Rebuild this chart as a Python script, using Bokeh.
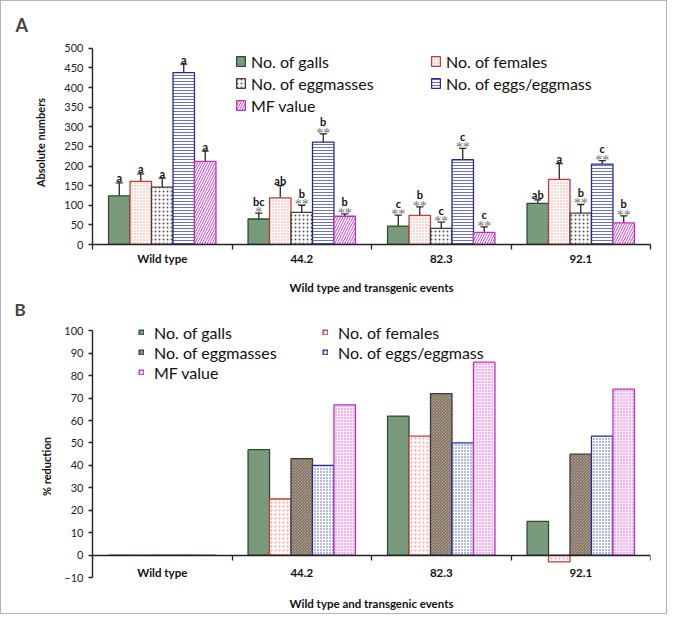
from bokeh.plotting import figure
from bokeh.models import (ColumnDataSource, Range1d, FixedTicker, Whisker, TeeHead,
                          Legend, LegendItem, LabelSet)
from bokeh.layouts import column
from bokeh.embed import file_html
from bokeh.resources import INLINE
from bokeh.core.properties import value

# ---------------- data ----------------
categories = ["Wild type", "44.2", "82.3", "92.1"]
series = ["No. of galls", "No. of females", "No. of eggmasses",
          "No. of eggs/eggmass", "MF value"]

# Panel A: absolute numbers (mean) and top of error bar
a_galls = [124, 65, 47, 105]
a_females = [161, 119, 74, 166]
a_eggmasses = [146, 82, 41, 80]
a_eggs = [438, 261, 216, 205]
a_mf = [212, 72, 31, 55]

a_galls_err = [157, 80, 75, 114]
a_females_err = [180, 150, 96, 206]
a_eggmasses_err = [169, 100, 57, 102]
a_eggs_err = [460, 282, 245, 214]
a_mf_err = [238, 78, 45, 73]

a_galls_letters = ["a", "bc", "c", "ab"]
a_females_letters = ["a", "ab", "b", "a"]
a_eggmasses_letters = ["a", "b", "c", "b"]
a_eggs_letters = ["a", "b", "c", "c"]
a_mf_letters = ["a", "b", "c", "b"]

a_galls_stars = ["", "*", "**", ""]
a_females_stars = ["", "", "**", ""]
a_eggmasses_stars = ["", "**", "**", "**"]
a_eggs_stars = ["", "**", "**", "**"]
a_mf_stars = ["", "**", "**", "**"]

# Panel B: % reduction
b_galls = [0, 47, 62, 15]
b_females = [0, 25, 53, -3]
b_eggmasses = [0, 43, 72, 45]
b_eggs = [0, 40, 50, 53]
b_mf = [0, 67, 86, 74]

a_yticks = list(range(0, 501, 50))
b_yticks = list(range(-10, 101, 10))

x_title = "Wild type and transgenic events"
a_ytitle = "Absolute numbers"
b_ytitle = "% reduction"

# ---------------- styles ----------------
FONT = "Lato"
A_STYLE = [
    dict(fill_color="#7A9A7C", line_color="#2E4A30"),
    dict(fill_color="#FFF8F7", line_color="#B8403C", hatch_pattern="dot",
         hatch_color="#E8AAA4", hatch_scale=3, hatch_weight=1),
    dict(fill_color="#FFFFFF", line_color="#4A3B30", hatch_pattern="dot",
         hatch_color="#555555", hatch_scale=4, hatch_weight=1),
    dict(fill_color="#FFFFFF", line_color="#2A2A8C", hatch_pattern="horizontal_line",
         hatch_color="#6A74BC", hatch_scale=3, hatch_weight=1),
    dict(fill_color="#FFFFFF", line_color="#C030C0", hatch_pattern="right_diagonal_line",
         hatch_color="#CC44CC", hatch_scale=5, hatch_weight=1),
]
B_STYLE = [
    dict(fill_color="#7A9A7C", line_color="#2E4A30"),
    dict(fill_color="#FFF8F8", line_color="#B8403C", hatch_pattern="dot",
         hatch_color="#E8A8A8", hatch_scale=4, hatch_weight=1),
    dict(fill_color="#D6CABA", line_color="#3A3A3A", hatch_pattern="left_diagonal_line",
         hatch_color="#6A5A4A", hatch_scale=3, hatch_weight=1),
    dict(fill_color="#FFFFFF", line_color="#2A2A9A", hatch_pattern="dot",
         hatch_color="#4050B0", hatch_scale=3, hatch_weight=1.1),
    dict(fill_color="#FCEAFC", line_color="#C030C0", hatch_pattern="dot",
         hatch_color="#D070D0", hatch_scale=3, hatch_weight=1),
]

BAR_W = 0.154
n_cat = len(categories)
n_ser = len(series)


def xpos(j):
    return [i + 0.5 + (j - (n_ser - 1) / 2) * BAR_W for i in range(n_cat)]


def style_axes(p, yticks, ytitle, ytitle_standoff, ybounds):
    p.xaxis.ticker = FixedTicker(ticks=[i + 0.5 for i in range(n_cat)],
                                 minor_ticks=list(range(n_cat + 1)))
    p.xaxis.major_label_overrides = {i + 0.5: c for i, c in enumerate(categories)}
    p.xaxis.major_tick_line_color = None
    p.xaxis.major_tick_out = 0
    p.xaxis.major_tick_in = 0
    p.xaxis.minor_tick_out = 5
    p.xaxis.minor_tick_in = 0
    p.xaxis.minor_tick_line_color = "#222222"
    p.xaxis.minor_tick_line_width = 1.3
    p.xaxis.major_label_text_font = FONT
    p.xaxis.major_label_text_font_style = "bold"
    p.xaxis.major_label_text_font_size = "11.5px"
    p.xaxis.major_label_text_color = "#111111"
    p.xaxis.major_label_standoff = 2
    p.xaxis.axis_label = x_title
    p.xaxis.axis_label_text_font = FONT
    p.xaxis.axis_label_text_font_style = "bold"
    p.xaxis.axis_label_text_font_size = "11.5px"
    p.xaxis.axis_label_text_color = "#111111"
    p.xaxis.axis_label_standoff = 13

    p.yaxis.ticker = FixedTicker(ticks=yticks)
    p.yaxis.bounds = ybounds
    p.yaxis.minor_tick_line_color = None
    p.yaxis.major_tick_out = 4
    p.yaxis.major_tick_in = 0
    p.yaxis.major_tick_line_color = "#222222"
    p.yaxis.major_tick_line_width = 1.3
    p.yaxis.major_label_standoff = 5
    p.yaxis.major_label_text_font = FONT
    p.yaxis.major_label_text_font_size = "11px"
    p.yaxis.major_label_text_color = "#222222"
    p.yaxis.axis_label = ytitle
    p.yaxis.axis_label_text_font = FONT
    p.yaxis.axis_label_text_font_style = "bold"
    p.yaxis.axis_label_text_font_size = "11px"
    p.yaxis.axis_label_text_color = "#111111"
    p.yaxis.axis_label_standoff = ytitle_standoff
    for ax in (p.xaxis, p.yaxis):
        ax.axis_line_color = "#222222"
        ax.axis_line_width = 1.4
    p.xgrid.visible = False
    p.ygrid.visible = False
    p.outline_line_color = None
    p.background_fill_color = "white"
    p.border_fill_color = "white"


# ---------------- panel A ----------------
pA = figure(width=665, height=295, output_backend="svg", toolbar_location=None,
            x_range=Range1d(0, n_cat), y_range=Range1d(0, 520),
            min_border_left=91, min_border_right=12, min_border_top=39,
            min_border_bottom=49, title="A")
pA.title.text_font = FONT
pA.title.text_font_style = "bold"
pA.title.text_font_size = "18px"
pA.title.align = "left"
pA.title.offset = -77
pA.title.standoff = 9
style_axes(pA, a_yticks, a_ytitle, 14, (0, 500))

a_vals = [a_galls, a_females, a_eggmasses, a_eggs, a_mf]
a_errs = [a_galls_err, a_females_err, a_eggmasses_err, a_eggs_err, a_mf_err]
a_lets = [a_galls_letters, a_females_letters, a_eggmasses_letters, a_eggs_letters, a_mf_letters]
a_strs = [a_galls_stars, a_females_stars, a_eggmasses_stars, a_eggs_stars, a_mf_stars]

a_items = []
for j in range(n_ser):
    xs = xpos(j)
    src = ColumnDataSource(dict(
        x=xs, val=a_vals[j], err=a_errs[j], letter=a_lets[j],
        loff=[-12 if s else -5 for s in a_strs[j]],
    ))
    r = pA.vbar(x="x", top="val", bottom=0, width=BAR_W, source=src,
                line_width=1.3, **A_STYLE[j])
    a_items.append(LegendItem(label=series[j], renderers=[r]))
    pA.add_layout(Whisker(base="x", upper="err", lower="val", source=src,
                          line_color="#262626", line_width=1.3,
                          upper_head=TeeHead(size=7, line_color="#262626", line_width=1.3),
                          lower_head=None))
    keep = [i for i, s in enumerate(a_strs[j]) if s]
    star_src = ColumnDataSource(dict(
        x=[xs[i] for i in keep], err=[a_errs[j][i] for i in keep],
        stars=[a_strs[j][i] for i in keep],
    ))
    pA.add_layout(LabelSet(x="x", y="err", text="stars", source=star_src,
                           text_font=FONT, text_font_size="14px",
                           text_color="#707070", text_align="center",
                           text_baseline="alphabetic", y_offset=-4))
    pA.text(x="x", y="err", text="letter", source=src, text_font=value(FONT),
            text_font_style="bold", text_font_size="11px", text_color="#111111",
            text_align="center", text_baseline="alphabetic", y_offset="loff")

legA = Legend(items=a_items, location=(143, 129), orientation="horizontal", ncols=2,
              padding=0, margin=0, spacing=2, label_standoff=5, label_width=177,
              label_height=20, glyph_width=11, glyph_height=12,
              label_text_font=FONT, label_text_font_size="16px",
              label_text_color="#111111", border_line_color=None,
              background_fill_alpha=0)
pA.add_layout(legA)

# ---------------- panel B ----------------
pB = figure(width=665, height=317, output_backend="svg", toolbar_location=None,
            x_range=Range1d(0, n_cat), y_range=Range1d(-25.6, 104.6),
            min_border_left=91, min_border_right=16, min_border_top=21,
            min_border_bottom=1, title="B")
pB.title.text_font = FONT
pB.title.text_font_style = "bold"
pB.title.text_font_size = "17px"
pB.title.align = "left"
pB.title.offset = -78
pB.title.standoff = 1
style_axes(pB, b_yticks, b_ytitle, 8, (-10, 100))
pB.xaxis.fixed_location = 0
pB.xaxis.major_label_standoff = 6
pB.xaxis.axis_label_standoff = 14

b_vals = [b_galls, b_females, b_eggmasses, b_eggs, b_mf]
b_items = []
for j in range(n_ser):
    src = ColumnDataSource(dict(x=xpos(j), val=b_vals[j]))
    r = pB.vbar(x="x", top="val", bottom=0, width=BAR_W, source=src,
                line_width=1.3, **B_STYLE[j])
    b_items.append(LegendItem(label=series[j], renderers=[r]))

legB = Legend(items=b_items, location=(46, 230), orientation="horizontal", ncols=2,
              padding=0, margin=0, spacing=0, label_standoff=10, label_width=168,
              label_height=20, glyph_width=6, glyph_height=6,
              label_text_font=FONT, label_text_font_size="16px",
              label_text_color="#111111", border_line_color=None,
              background_fill_alpha=0)
pB.add_layout(legB)

layout = column(pA, pB, spacing=0, styles={"border": "1px solid #B4B4B4"})
open("out.html", "w").write(file_html(layout, INLINE))
